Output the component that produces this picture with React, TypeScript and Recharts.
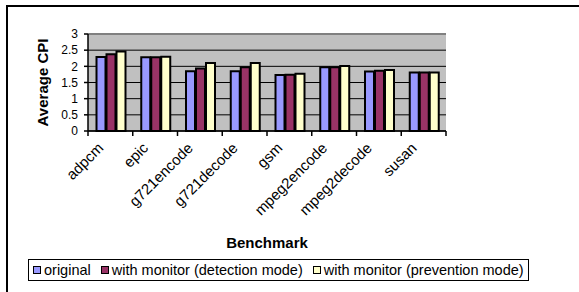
import { BarChart, Bar, XAxis, YAxis, CartesianGrid, Legend, ReferenceLine } from 'recharts';

const benchmarks = ['adpcm', 'epic', 'g721encode', 'g721decode', 'gsm', 'mpeg2encode', 'mpeg2decode', 'susan'];
const original = [2.29, 2.28, 1.85, 1.85, 1.73, 1.97, 1.84, 1.81];
const detection = [2.37, 2.28, 1.93, 1.97, 1.74, 1.97, 1.86, 1.81];
const prevention = [2.46, 2.3, 2.1, 2.1, 1.77, 2.01, 1.89, 1.81];
const yTicks = [0, 0.5, 1, 1.5, 2, 2.5, 3];

const series = [
  { key: 'original', name: 'original', color: '#9999FF' },
  { key: 'detection', name: 'with monitor (detection mode)', color: '#993366' },
  { key: 'prevention', name: 'with monitor (prevention mode)', color: '#FFFFCC' },
];

const data = benchmarks.map((name, i) => ({
  name,
  original: original[i],
  detection: detection[i],
  prevention: prevention[i],
}));

const W = 579;
const H = 292;
const M = { top: 34, right: 133, bottom: 41, left: 0 };
const Y_W = 88;
const X_H = 120;
const FONT = '"Liberation Sans", Arial, sans-serif';
const half = (W - M.left - M.right - Y_W) / benchmarks.length / 2;

const XTick = (props: any) => {
  const { x, y, payload, index } = props;
  const tx = x - 6;
  const ty = y + 18;
  return (
    <g>
      <line x1={x - half} x2={x - half} y1={y} y2={y + 5} stroke="#000" strokeWidth={1.5} />
      {index === benchmarks.length - 1 && (
        <line x1={x + half} x2={x + half} y1={y} y2={y + 5} stroke="#000" strokeWidth={1.5} />
      )}
      <text x={tx} y={ty} textAnchor="end" fontSize={15} fontFamily={FONT} fill="#000"
        transform={`rotate(-45 ${tx} ${ty})`}>
        {payload.value}
      </text>
    </g>
  );
};

const LegendBox = () => (
  <div style={{
    border: '1.5px solid #000', boxSizing: 'border-box', width: 501, height: 22,
    display: 'flex', alignItems: 'center', fontFamily: FONT, fontSize: 14.5, paddingLeft: 4,
    background: '#fff', whiteSpace: 'nowrap',
  }}>
    {series.map((s) => (
      <span key={s.key} style={{ display: 'flex', alignItems: 'center', marginRight: 10 }}>
        <span style={{ width: 6, height: 6, border: '1.5px solid #000', background: s.color, marginRight: 3 }} />
        {s.name}
      </span>
    ))}
  </div>
);

export default function App() {
  return (
    <div style={{ position: 'absolute', left: 0, top: 0, width: W, height: H, overflow: 'hidden', background: '#fff' }}>
      <div style={{ position: 'absolute', left: 6, top: 5, width: 700, height: 400, borderLeft: '2px solid #000', borderTop: '2.5px solid #000' }} />
      <BarChart width={W} height={H} data={data} margin={M} barCategoryGap={8.5} barGap={1}>
        <CartesianGrid vertical={false} stroke="#000" fill="#C0C0C0" fillOpacity={1} />
        <ReferenceLine y={3} stroke="#808080" strokeWidth={2} />
        <XAxis dataKey="name" height={X_H} tick={<XTick />} tickLine={false} tickSize={0} tickMargin={0}
          interval={0} axisLine={{ stroke: '#000', strokeWidth: 1.5 }}
          label={({ viewBox }: any) => (
            <text x={viewBox.x + viewBox.width / 2} y={viewBox.y + 111} textAnchor="middle" dominantBaseline="central"
              fontSize={15} fontWeight="bold" fontFamily={FONT} fill="#000">Benchmark</text>
          )} />
        <YAxis width={Y_W} domain={[0, 3]} ticks={yTicks} interval={0} tickSize={4} tickMargin={6}
          tick={{ fontSize: 12, fontFamily: FONT, fill: '#000' }}
          tickLine={{ stroke: '#000', strokeWidth: 1.5 }} axisLine={{ stroke: '#000', strokeWidth: 1.5 }}
          label={({ viewBox }: any) => {
            const cx = 42;
            const cy = viewBox.y + viewBox.height / 2;
            return (
              <text x={cx} y={cy} textAnchor="middle" dominantBaseline="central" transform={`rotate(-90 ${cx} ${cy})`}
                fontSize={15} fontWeight="bold" fontFamily={FONT} fill="#000">Average CPI</text>
            );
          }} />
        <YAxis yAxisId="r" orientation="right" width={0} domain={[0, 3]} tick={false} tickLine={false}
          axisLine={{ stroke: '#808080', strokeWidth: 2 }} />
        <Legend layout="horizontal" verticalAlign="middle" align="center" content={<LegendBox />}
          wrapperStyle={{ top: 259, left: 28, width: 501 }} />
        {series.map((s) => (
          <Bar key={s.key} dataKey={s.key} name={s.name} fill={s.color} stroke="#000" strokeWidth={2}
            isAnimationActive={false} />
        ))}
      </BarChart>
    </div>
  );
}
